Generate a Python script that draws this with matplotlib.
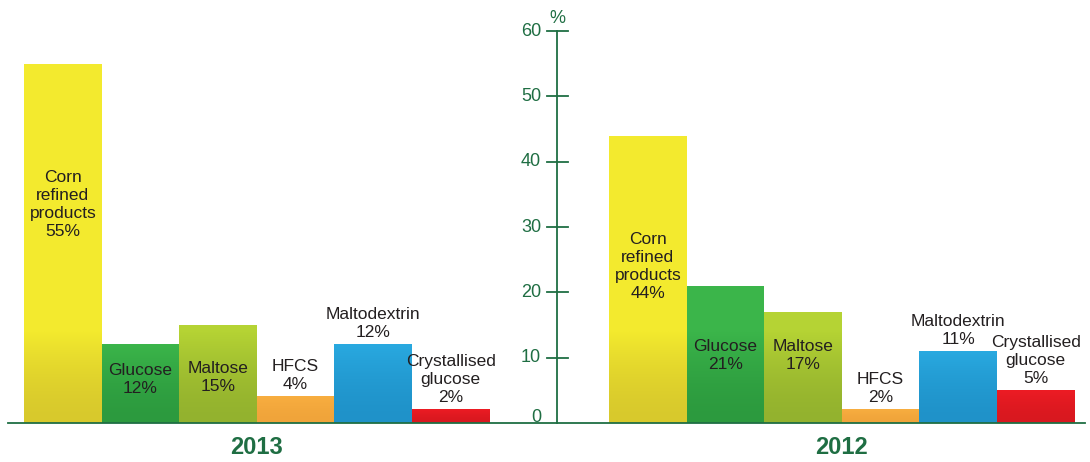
import numpy as np
import matplotlib
matplotlib.use("Agg")
import matplotlib.pyplot as plt
from matplotlib.colors import to_rgb

plt.rcParams["font.family"] = ["Liberation Sans", "DejaVu Sans"]

# --- data ---
years = ["2013", "2012"]
products = ["Corn\nrefined\nproducts", "Glucose", "Maltose", "HFCS",
            "Maltodextrin", "Crystallised\nglucose"]
share_2013 = [55, 12, 15, 4, 12, 2]
share_2012 = [44, 21, 17, 2, 11, 5]
label_inside = [True, True, True, False, False, False]
yticks = [0, 10, 20, 30, 40, 50, 60]

colors = ["#F3EA2E", "#3BB54A", "#B5D334", "#F8AE40", "#29A9E0", "#ED1C24"]
dark = ["#D8C92C", "#2C9A3E", "#93B22E", "#F0A43A", "#1F92C9", "#D8181F"]
AXIS_GREEN = "#1F6E43"
TEXT = "#231F20"

# layout (units of one bar width)
W, H = 1090, 462
BW = 77.6                     # px per bar
group_start = [24 / BW, 609 / BW]
axis_x = 557 / BW
PX = 392 / 60                 # px per % unit
GRAD = 14                     # gradient band height (% units)

fig = plt.figure(figsize=(W / 100, H / 100), dpi=100)
ax = fig.add_axes([0, 0, 1, 1])
ax.set_xlim(0, W / BW)
ax.set_ylim(-39 / PX, 60 + 31 / PX)
ax.axis("off")

inside_y = {"2013": [33.4, 6.6, 7.0], "2012": [23.9, 10.4, 10.4]}

for g, (year, vals) in enumerate(zip(years, [share_2013, share_2012])):
    x0 = group_start[g]
    for i, v in enumerate(vals):
        left = x0 + i
        ax.bar(left, v, width=1, align="edge", color=colors[i], lw=0, zorder=2)
        # darker gradient toward the bottom
        band = min(v, GRAD)
        c1, c0 = np.array(to_rgb(colors[i])), np.array(to_rgb(dark[i]))
        t = np.linspace(0, 1, 64)[:, None] ** 1.6
        grad = c0 + (c1 - c0) * t[:, :, None] * np.ones((1, 2, 1))
        ax.imshow(grad, extent=(left, left + 1, 0, band), origin="lower",
                  aspect="auto", zorder=3, interpolation="bilinear")
        txt = f"{products[i]}\n{v}%"
        if label_inside[i]:
            ax.text(left + 0.5, inside_y[year][i], txt, ha="center", va="center",
                    fontsize=12.5, color=TEXT, linespacing=1.25, zorder=4)
        else:
            ax.text(left + 0.5, v + 0.7, txt, ha="center", va="bottom",
                    fontsize=12.5, color=TEXT, linespacing=1.25, zorder=4)
    ax.text(x0 + 3, -3.7, year, ha="center", va="center", fontsize=17,
            fontweight="bold", color=AXIS_GREEN)

# baseline and central axis
ax.plot([8 / BW, 1085 / BW], [0, 0], color=AXIS_GREEN, lw=1.3, zorder=5)
ax.plot([axis_x, axis_x], [0, 60], color=AXIS_GREEN, lw=1.3, zorder=5)
for t in yticks:
    if t > 0:
        ax.plot([axis_x - 10 / BW, axis_x + 11 / BW], [t, t],
                color=AXIS_GREEN, lw=1.3, zorder=5)
    ax.text(axis_x - 16 / BW, t + (0.9 if t == 0 else 0), str(t), ha="right",
            va="center", fontsize=13, color=AXIS_GREEN)
ax.text(axis_x, 60 + 0.6, "%", ha="center", va="bottom", fontsize=13,
        color=AXIS_GREEN)

fig.savefig("out.png", dpi=100, facecolor="white")
